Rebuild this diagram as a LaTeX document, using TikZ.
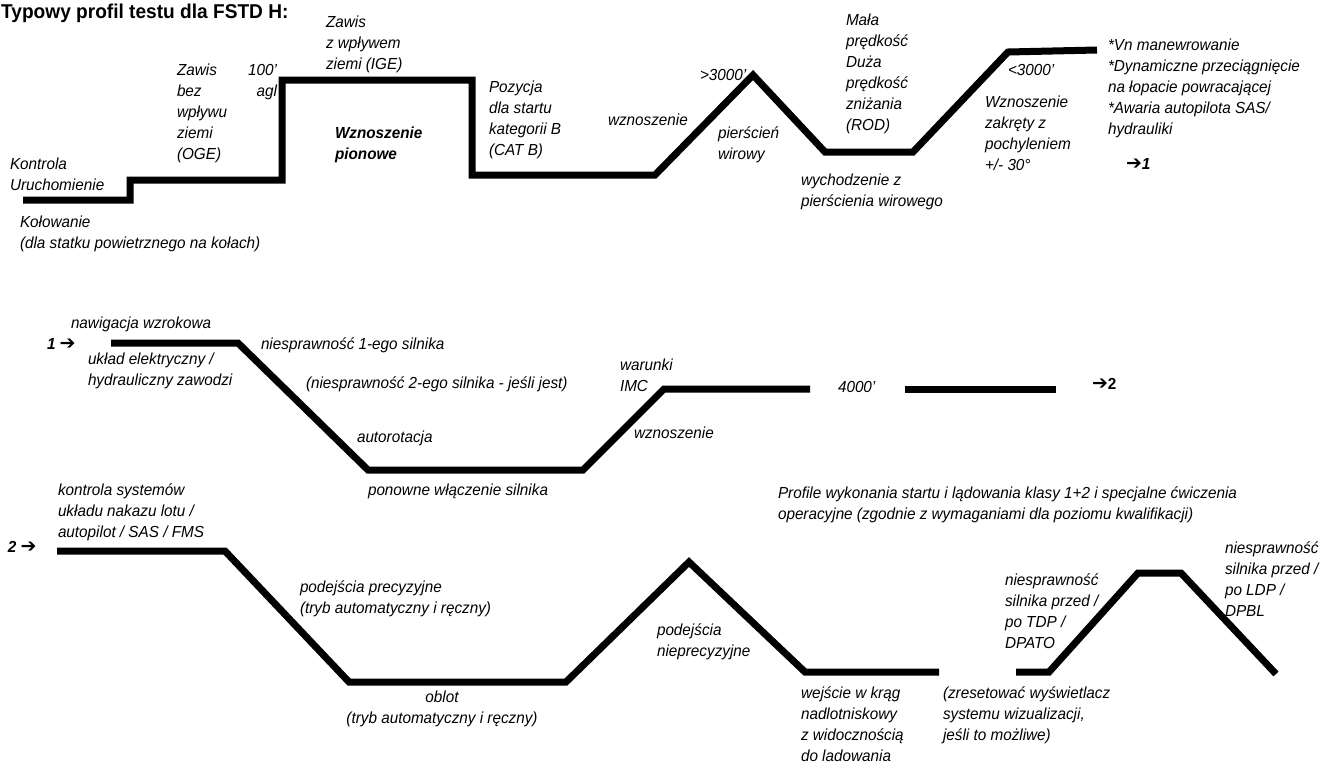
\documentclass[tikz,border=0pt]{standalone}
\usepackage{fontspec}
\setmainfont{Liberation Sans}[FakeStretch=0.955]
\newfontfamily\arrowfont{DejaVu Sans}
\newcommand{\rarr}{{\arrowfont\fontsize{19}{15}\selectfont ➔}}
\begin{document}
\begin{tikzpicture}[x=1pt,y=-1pt,
  prof/.style={line width=7pt, line join=miter, line cap=butt},
  lbl/.style={anchor=north west, inner sep=0pt, outer sep=0pt, align=left, font=\itshape\fontsize{16}{21}\selectfont},
  lblr/.style={lbl, anchor=north east, align=right},
  lblc/.style={lbl, anchor=north, align=center},
  blbl/.style={lbl, font=\bfseries\itshape\fontsize{16}{21}\selectfont},
  ttl/.style={anchor=north west, inner sep=0pt, font=\bfseries\fontsize{20}{22}\selectfont}]
\useasboundingbox (0,0) rectangle (1320,763);
% title
\node[ttl] (title) at (1,4) {Typowy profil testu dla FSTD H:};
% profile lines
\draw[prof] (23,200) -- (130,200) -- (130,180) -- (282,180) -- (282,80) -- (472,80) -- (472,175) -- (655,175) -- (753,75) -- (825,152) -- (913,152) -- (1008,52) -- (1097,50);
\draw[prof] (111,343) -- (238,343) -- (368,470) -- (583,470) -- (664,389) -- (810,389);
\draw[prof] (905,389) -- (1056,389);
\draw[prof] (57,551) -- (225,551) -- (349,682) -- (566,682) -- (689,562) -- (805,672) -- (939,672);
\draw[prof] (1016,672) -- (1049,672) -- (1138,573) -- (1181,573) -- (1276,674);
% row 1 labels
\node[lbl] (a1) at (10,158) {Kontrola\\Uruchomienie};
\node[lbl] (a2) at (20,216) {Kołowanie\\(dla statku powietrznego na kołach)};
\node[lbl] (a3) at (177,64) {Zawis\\bez\\wpływu\\ziemi\\(OGE)};
\node[lblr] (a4) at (277,64) {100’\\agl};
\node[lbl] (a5) at (326,16) {Zawis\\z wpływem\\ziemi (IGE)};
\node[blbl] (a6) at (335,127) {Wznoszenie\\pionowe};
\node[lbl] (a7) at (489,81) {Pozycja\\dla startu\\kategorii B\\(CAT B)};
\node[lbl] (a8) at (608,114) {wznoszenie};
\node[lbl] (a9) at (700,69) {>3000’};
\node[lbl] (a10) at (718,127) {pierścień\\wirowy};
\node[lbl] (a11) at (846,14) {Mała\\prędkość\\Duża\\prędkość\\zniżania\\(ROD)};
\node[lbl] (a12) at (801,174) {wychodzenie z\\pierścienia wirowego};
\node[lbl] (a13) at (1008,64) {<3000’};
\node[lbl] (a14) at (985,96) {Wznoszenie\\zakręty z\\pochyleniem\\+/- 30°};
\node[lbl] (a15) at (1108,39) {*Vn manewrowanie\\*Dynamiczne przeciągnięcie\\na łopacie powracającej\\*Awaria autopilota SAS/\\hydrauliki};
\node[blbl] (a16) at (1126,158) {\rarr1};
% row 2 labels
\node[lbl] (b1) at (71,317) {nawigacja wzrokowa};
\node[blbl] (b2) at (47,338) {1 \rarr};
\node[lbl] (b3) at (88,353) {układ elektryczny /\\hydrauliczny zawodzi};
\node[lbl] (b4) at (261,338) {niesprawność 1-ego silnika};
\node[lbl] (b5) at (306,377) {(niesprawność 2-ego silnika - jeśli jest)};
\node[lbl] (b6) at (357,431) {autorotacja};
\node[lbl] (b7) at (368,484) {ponowne włączenie silnika};
\node[lbl] (b8) at (620,359) {warunki\\IMC};
\node[lbl] (b9) at (634,427) {wznoszenie};
\node[lbl] (b10) at (838,381) {4000’};
\node[blbl] (b11) at (1092,378) {\rarr\textup{2}};
% row 3 labels
\node[lbl] (c1) at (58,484) {kontrola systemów\\układu nakazu lotu /\\autopilot / SAS / FMS};
\node[blbl] (c2) at (8,541) {2 \rarr};
\node[lbl] (c3) at (300,581) {podejścia precyzyjne\\(tryb automatyczny i ręczny)};
\node[lblc] (c4) at (442,691) {oblot\\(tryb automatyczny i ręczny)};
\node[lbl] (c5) at (657,624) {podejścia\\nieprecyzyjne};
\node[lbl] (c6) at (801,687) {wejście w krąg\\nadlotniskowy\\z widocznością\\do ladowania};
\node[lbl] (c7) at (778,487) {Profile wykonania startu i lądowania klasy 1+2 i specjalne ćwiczenia\\operacyjne (zgodnie z wymaganiami dla poziomu kwalifikacji)};
\node[lbl] (c8) at (1005,574) {niesprawność\\silnika przed /\\po TDP /\\DPATO};
\node[lbl] (c9) at (943,687) {(zresetować wyświetlacz\\systemu wizualizacji,\\jeśli to możliwe)};
\node[lbl] (c10) at (1225,542) {niesprawność\\silnika przed /\\po LDP /\\DPBL};
\end{tikzpicture}
\end{document}
